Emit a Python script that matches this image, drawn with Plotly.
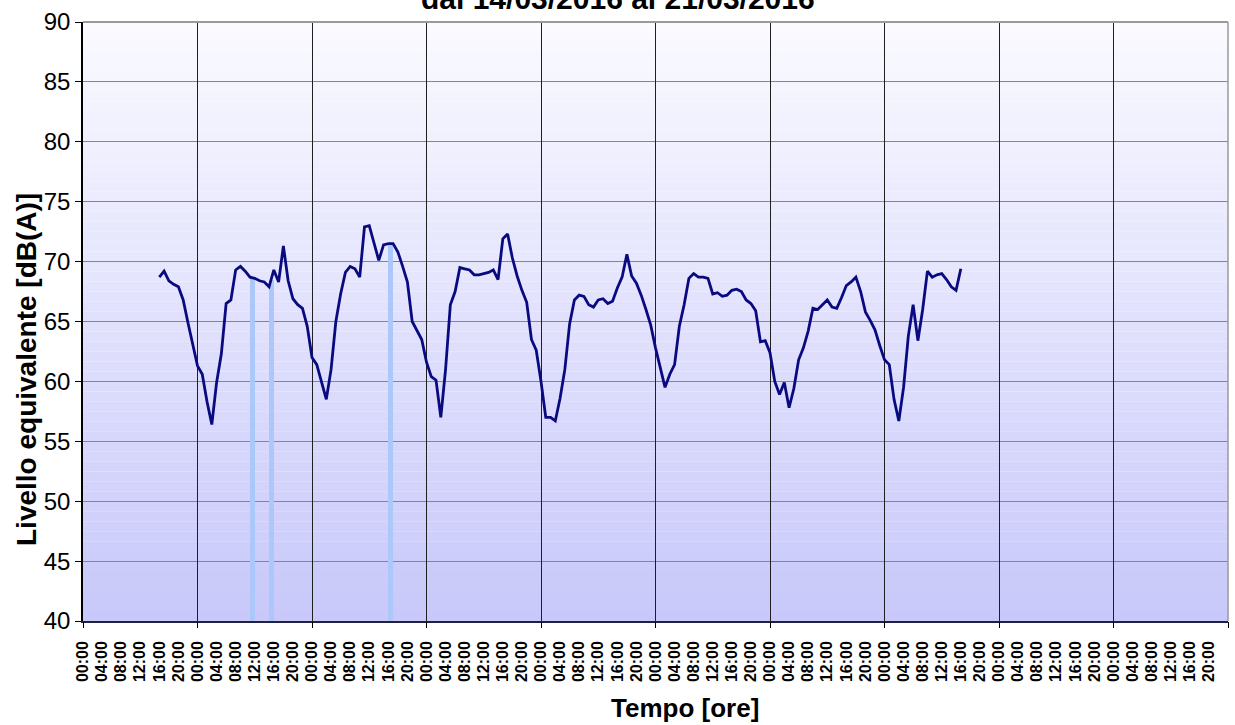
import plotly.graph_objects as go

# ---- data (hourly Leq, hours counted from 00:00 of the first axis day) ----
start_hour = 16
leq_values = [
    68.7, 69.2, 68.4, 68.1, 67.9, 66.8, 64.9, 63.0,          # 16-23
    61.3, 60.6, 58.3, 56.4, 59.9, 62.3, 66.5, 66.8,          # 24-31
    69.3, 69.6, 69.2, 68.7, 68.6, 68.4, 68.3, 67.9,          # 32-39
    69.3, 68.3, 71.3, 68.4, 66.9, 66.4, 66.1, 64.6,          # 40-47
    62.0, 61.4, 60.0, 58.5, 61.0, 65.0, 67.3, 69.1,          # 48-55
    69.6, 69.4, 68.7, 72.9, 73.0, 71.6, 70.1, 71.4,          # 56-63
    71.5, 71.5, 70.8, 69.6, 68.3, 65.0, 64.2, 63.5,          # 64-71
    61.6, 60.4, 60.1, 57.0, 61.0, 66.4, 67.5, 69.5,          # 72-79
    69.4, 69.3, 68.9, 68.9, 69.0, 69.1, 69.3, 68.5,          # 80-87
    71.9, 72.3, 70.3, 68.8, 67.6, 66.6, 63.5, 62.6,          # 88-95
    60.0, 57.0, 57.0, 56.7, 58.6, 61.0, 64.8, 66.8,          # 96-103
    67.2, 67.1, 66.4, 66.2, 66.8, 66.9, 66.5, 66.7,          # 104-111
    67.8, 68.7, 70.6, 68.8, 68.2, 67.2, 66.0, 64.7,          # 112-119
    62.8, 61.2, 59.5, 60.6, 61.4, 64.6, 66.4, 68.6,          # 120-127
    69.0, 68.7, 68.7, 68.6, 67.3, 67.4, 67.1, 67.2,          # 128-135
    67.6, 67.7, 67.5, 66.8, 66.5, 65.9, 63.3, 63.4,          # 136-143
    62.4, 60.0, 58.9, 59.9, 57.8, 59.4, 61.8, 62.8,          # 144-151
    64.2, 66.1, 66.0, 66.4, 66.8, 66.2, 66.1, 67.0,          # 152-159
    68.0, 68.3, 68.7, 67.5, 65.8, 65.1, 64.3, 63.0,          # 160-167
    61.8, 61.4, 58.5, 56.7, 59.5, 63.8, 66.4, 63.4,          # 168-175
    66.0, 69.2, 68.7, 68.9, 69.0, 68.5, 67.9, 67.6,          # 176-183
    69.4,                                                    # 184
]
hours = list(range(start_hour, start_hour + len(leq_values)))

# highlighted hours (light-blue columns)
event_hours = [35, 39, 64]
event_levels = [68.6, 68.5, 71.4]

# axis: 10 days, labels every 4 hours
n_days = 10
label_hours = [0, 4, 8, 12, 16, 20]
tick_vals = [d * 24 + h for d in range(n_days) for h in label_hours]
tick_text = [f"{h:02d}:00" for d in range(n_days) for h in label_hours]
day_vals = [d * 24 for d in range(n_days + 1)]

title_text = "dal 14/03/2016 al 21/03/2016"
y_title = "Livello equivalente [dB(A)]"
x_title = "Tempo [ore]"

FONT = "Liberation Sans, Arial, sans-serif"
W, H = 1235, 725
ML, MR, MT, MB = 83, 7, 22, 104
PH = H - MT - MB
PW = W - ML - MR

fig = go.Figure()

# columns on the label axis (drawn underneath)
fig.add_trace(go.Bar(
    x=event_hours, y=event_levels, width=0.95, offset=0,
    marker=dict(color="rgb(172,200,250)", line=dict(width=0)),
    showlegend=False, hoverinfo="skip", xaxis="x",
))
# line on the overlay axis (drawn on top)
fig.add_trace(go.Scatter(
    x=hours, y=leq_values, mode="lines",
    line=dict(color="#0a0a80", width=2.8),
    showlegend=False, xaxis="x2",
))

# gradient background bands
shapes = []
n_bands = 60
top = (250, 250, 255)
bot = (200, 200, 250)
for i in range(n_bands):
    f = i / (n_bands - 1)
    c = tuple(round(top[k] + (bot[k] - top[k]) * f) for k in range(3))
    shapes.append(dict(
        type="rect", xref="paper", yref="paper", layer="below",
        x0=0, x1=1, y0=1 - (i + 1) / n_bands, y1=1 - i / n_bands,
        fillcolor=f"rgb{c}", line=dict(width=0),
    ))
# top & right frame
shapes.append(dict(type="line", xref="paper", yref="paper", x0=0, x1=1, y0=1, y1=1,
                   line=dict(color="#9a9a9a", width=2)))
shapes.append(dict(type="line", xref="paper", yref="paper", x0=1, x1=1, y0=0, y1=1,
                   line=dict(color="#9a9a9a", width=1.5)))

def px_x(px):
    return (px - ML) / PW

def px_y(py):
    return (H - MB - py) / PH

annotations = [
    dict(text=title_text, x=px_x(618), y=px_y(16.5), xref="paper", yref="paper",
         xanchor="center", yanchor="bottom", showarrow=False,
         font=dict(family=FONT, size=30, color="black", weight="bold")),
    dict(text=y_title, x=px_x(26), y=px_y(370), xref="paper", yref="paper",
         xanchor="center", yanchor="middle", textangle=-90, showarrow=False,
         font=dict(family=FONT, size=28, color="black", weight="bold")),
    dict(text=x_title, x=px_x(685), y=px_y(708), xref="paper", yref="paper",
         xanchor="center", yanchor="middle", showarrow=False,
         font=dict(family=FONT, size=26, color="black", weight="bold")),
]

fig.update_layout(
    width=W, height=H,
    margin=dict(l=ML, r=MR, t=MT, b=MB),
    paper_bgcolor="white", plot_bgcolor="rgba(0,0,0,0)",
    shapes=shapes, annotations=annotations,
    bargap=0,
    xaxis=dict(
        range=[0, n_days * 24], tickmode="array", tickvals=tick_vals, ticktext=tick_text,
        tickangle=-90, ticks="", showgrid=False, zeroline=False,
        showline=True, linecolor="#202040", linewidth=1.5,
        ticklabelstandoff=12,
        tickfont=dict(family=FONT, size=16, color="black", weight="bold"),
        fixedrange=True,
    ),
    xaxis2=dict(
        overlaying="x", anchor="y", side="bottom",
        range=[0, n_days * 24], tickmode="array", tickvals=day_vals,
        showticklabels=False, ticks="outside", ticklen=6, tickcolor="black",
        showgrid=True, gridcolor="#202020", gridwidth=1,
        showline=False, zeroline=False, fixedrange=True,
    ),
    yaxis=dict(
        range=[40, 90], dtick=5, tick0=40,
        tickfont=dict(family=FONT, size=24, color="black"),
        ticks="outside", ticklen=6, tickcolor="black",
        showgrid=True, gridcolor="#868686", gridwidth=1,
        showline=True, linecolor="black", linewidth=1.5,
        zeroline=False, fixedrange=True,
    ),
)

fig.write_html(
    "out.html",
    config={"displayModeBar": False},
    post_script="document.body.style.margin='0';document.body.style.overflow='hidden';",
)
